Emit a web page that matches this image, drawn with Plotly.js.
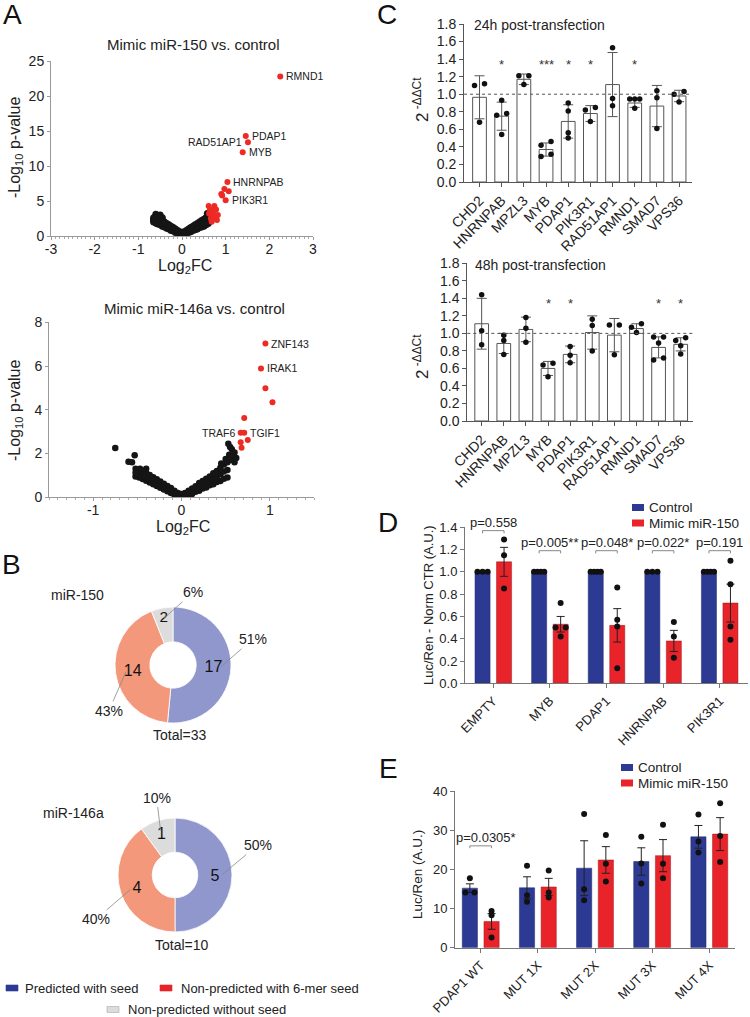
<!DOCTYPE html>
<html><head><meta charset="utf-8">
<script src="https://cdn.plot.ly/plotly-3.0.1.min.js"></script>
<style>html,body{margin:0;padding:0;background:#fff}#chart{width:750px;height:1017px}</style>
</head><body><div id="chart"></div>
<script>
// ================= DATA =================
// Panel A (top): Mimic miR-150 vs. control  (black = non-significant genes, red = significant)
const a1BlackX = [0,0,
 -0.05,-0.1,-0.15,-0.2,-0.25,-0.3,-0.35,-0.4,-0.45,-0.5,-0.55,-0.6,-0.65,
 -0.05,-0.1,-0.15,-0.2,-0.25,-0.3,-0.35,-0.4,-0.45,-0.5,-0.55,-0.6,-0.65,
 -0.05,-0.1,-0.15,-0.2,-0.25,-0.3,-0.35,-0.4,-0.45,-0.5,-0.55,-0.6,-0.65,
 -0.6,-0.5,-0.55,-0.65,-0.62,-0.45,-0.58,
 0.05,0.1,0.15,0.2,0.25,0.3,0.35,0.4,0.45,0.5,0.55,0.6,0.62,
 0.05,0.1,0.15,0.2,0.25,0.3,0.35,0.4,0.45,0.5,0.55,0.6,0.62,
 0.05,0.1,0.15,0.2,0.25,0.3,0.35,0.4,0.45,0.5,0.55,0.6,0.62,
 0.58,0.55];
const a1BlackY = [0.3,0.5,
 0.3,0.4,0.5,0.7,0.8,1.0,1.1,1.3,1.4,1.6,1.7,1.9,2.0,
 0.45,0.6,0.75,0.95,1.1,1.3,1.45,1.65,1.8,2.0,2.1,2.25,2.2,
 0.6,0.8,1.0,1.2,1.4,1.6,1.8,2.0,2.2,2.4,2.5,2.6,2.4,
 3.1,3.0,2.8,2.6,2.2,2.6,1.8,
 0.3,0.4,0.5,0.6,0.8,0.9,1.0,1.2,1.3,1.4,1.6,1.8,2.0,
 0.45,0.6,0.75,0.9,1.1,1.25,1.4,1.6,1.75,1.9,2.1,2.3,2.5,
 0.6,0.8,1.0,1.2,1.4,1.6,1.8,2.0,2.2,2.4,2.6,2.8,3.0,
 3.2,1.7];
const a1RedX = [2.25,1.46,1.51,1.39,1.04,0.97,1.07,0.90,0.92,1.00,0.61,0.74,0.64,0.78,0.62,0.70,0.82,0.66,0.76,0.68,0.72,0.80];
const a1RedY = [22.8,14.3,13.4,11.95,7.7,6.7,6.4,6.0,5.8,5.1,4.3,4.3,3.8,3.8,3.2,3.2,3.0,2.5,2.6,2.05,3.6,2.3];
const a1RedName = ['RMND1','PDAP1','RAD51AP1','MYB','HNRNPAB','','','','','PIK3R1','','','','','','','','','','','',''];
const a1XTicks = [-3,-2,-1,0,1,2,3];
const a1YTicks = [0,5,10,15,20,25];

// Panel A (bottom): Mimic miR-146a vs. control
const a2BlackX = [0,0,
 -0.04,-0.08,-0.12,-0.16,-0.2,-0.24,-0.28,-0.32,-0.36,-0.4,-0.44,-0.48,-0.52,
 -0.04,-0.08,-0.12,-0.16,-0.2,-0.24,-0.28,-0.32,-0.36,-0.4,-0.44,-0.48,-0.52,
 -0.04,-0.08,-0.12,-0.16,-0.2,-0.24,-0.28,-0.32,-0.36,-0.4,-0.44,-0.48,-0.52,
 -0.75,-0.53,-0.6,-0.56,-0.47,-0.4,-0.5,
 0.04,0.08,0.12,0.16,0.2,0.24,0.28,0.32,0.36,0.4,0.44,0.48,0.52,
 0.04,0.08,0.12,0.16,0.2,0.24,0.28,0.32,0.36,0.4,0.44,0.48,0.52,
 0.04,0.08,0.12,0.16,0.2,0.24,0.28,0.32,0.36,0.4,0.44,0.48,0.52,
 0.53,0.55,0.57,0.6,0.58,0.5,0.55,0.6,0.45,0.62,0.54];
const a2BlackY = [0.05,0.15,
 0.05,0.12,0.2,0.28,0.36,0.44,0.52,0.6,0.68,0.76,0.84,0.9,0.95,
 0.12,0.21,0.31,0.4,0.49,0.58,0.67,0.76,0.85,0.94,1.02,1.08,1.12,
 0.2,0.3,0.42,0.52,0.62,0.72,0.82,0.92,1.02,1.12,1.2,1.26,1.3,
 2.25,1.92,1.62,1.6,1.3,1.3,1.1,
 0.05,0.1,0.15,0.25,0.3,0.4,0.45,0.55,0.6,0.7,0.75,0.85,0.9,
 0.12,0.2,0.28,0.38,0.48,0.58,0.65,0.75,0.85,0.95,1.05,1.18,1.25,
 0.2,0.3,0.4,0.5,0.65,0.75,0.85,0.95,1.1,1.2,1.35,1.5,1.6,
 2.45,2.3,2.2,2.05,1.8,1.75,1.7,1.6,1.55,1.8,1.95];
const a2RedX = [0.95,0.90,0.95,1.03,0.71,0.67,0.71,0.75,0.67,0.68];
const a2RedY = [7.03,5.89,4.98,4.34,3.62,2.95,2.95,2.62,2.52,2.27];
const a2RedName = ['ZNF143','IRAK1','','','','TRAF6','TGIF1','','',''];
const a2XTicks = [-1,0,1];
const a2YTicks = [0,2,4,6,8];

// Panel B: donuts
const pieCategories = ['Predicted with seed','Non-predicted with 6-mer seed','Non-predicted without seed'];
const pie150Values = [17,14,2];
const pie150Pct = ['51%','43%','6%'];
const pie146Values = [5,4,1];
const pie146Pct = ['50%','40%','10%'];

// Panel C: qPCR
const cGenes = ['CHD2','HNRNPAB','MPZL3','MYB','PDAP1','PIK3R1','RAD51AP1','RMND1','SMAD7','VPS36'];
const c24Mean = [0.965,0.75,1.17,0.37,0.69,0.78,1.11,0.90,0.865,0.98];
const c24Sd   = [0.245,0.16,0.06,0.075,0.19,0.09,0.365,0.05,0.235,0.065];
const c24Dots = [[1.12,1.10,0.68],[0.78,0.93,0.76,0.54],[1.21,1.21,1.11],[0.42,0.46,0.29,0.315],[0.90,0.81,0.56,0.50],[0.85,0.82,0.69],[1.53,0.95,0.87],[0.945,0.945,0.945,0.84],[1.04,0.96,0.61],[1.03,1.00,0.91]];
const c24Stars = ['','*','','***','*','*','','*','',''];
const c48Mean = [1.11,0.885,1.045,0.60,0.76,1.01,0.98,1.055,0.84,0.875];
const c48Sd   = [0.29,0.115,0.14,0.08,0.095,0.19,0.19,0.055,0.12,0.075];
const c48Dots = [[1.44,1.03,0.87],[0.98,0.92,0.76],[1.18,1.06,0.90],[0.66,0.64,0.505],[0.85,0.75,0.665],[1.16,1.09,0.80],[1.095,1.095,0.755],[1.11,1.07,1.01],[0.96,0.96,0.89,0.695,0.72],[0.92,0.95,0.86,0.765]];
const c48Stars = ['','','','*','*','','','','*','*'];
const cYTicks = [0,0.2,0.4,0.6,0.8,1.0,1.2,1.4,1.6,1.8];

// Panel D: luciferase, normalised
const dGenes = ['EMPTY','MYB','PDAP1','HNRNPAB','PIK3R1'];
const dCtrlMean = [1,1,1,1,1];
const dCtrlDots = [[1,1,1],[1,1,1,1],[1,1,1,1],[1,1,1],[1,1,1,1]];
const dMimMean = [1.09,0.53,0.52,0.38,0.72];
const dMimSem  = [0.13,0.07,0.15,0.095,0.17];
const dMimDots = [[1.29,1.15,0.85],[0.72,0.50,0.50,0.42],[0.86,0.57,0.51,0.135],[0.55,0.42,0.23],[1.10,0.89,0.51,0.39]];
const dPvals = ['p=0.558','p=0.005**','p=0.048*','p=0.022*','p=0.191'];
const dYTicks = [0,0.2,0.4,0.6,0.8,1.0,1.2,1.4];

// Panel E: luciferase, PDAP1 mutants
const eConstructs = ['PDAP1 WT','MUT 1X','MUT 2X','MUT 3X','MUT 4X'];
const eCtrlMean = [15.2,15.3,20.3,22.0,28.3];
const eCtrlSem  = [1.1,2.8,7.0,3.5,2.9];
const eCtrlDots = [[17.7,14.1,14.1],[20.9,13.4,11.7],[34.1,14.9,12.1],[28.3,21.5,16.4],[34.0,27.1,24.3]];
const eMimMean = [6.7,15.5,22.4,23.5,29.0];
const eMimSem  = [2.0,2.2,3.4,4.1,4.2];
const eMimDots = [[9.4,8.3,2.6],[19.7,14.1,12.8],[28.8,21.4,16.9],[31.4,21.4,17.7],[36.9,28.5,21.9]];
const ePvals = ['p=0.0305*','','','',''];
const eYTicks = [0,10,20,30,40];

const seriesNames = ['Control','Mimic miR-150'];

// ================= STYLE / HELPERS =================
const FONT = 'Liberation Sans, Arial, sans-serif';
const W = 750, H = 1017;
const px = v => v / W;
const py = v => 1 - v / H;
const BLUE = '#2c3a93', RED = '#e9232a';
const PIE_COLORS = ['#9097cc','#f4987b','#dcdcdc'];
const LEG_COLORS = [BLUE, RED, '#dcdcdc'];
const GROUP_OFF = 0.19;

function swarm(vals, thr, span){
  const idx = vals.map((v,i)=>i).sort((a,b)=>vals[a]-vals[b]);
  const off = new Array(vals.length).fill(0);
  let group = [idx[0]];
  const flush = () => { const n = group.length; group.forEach((k,j)=>{ off[k] = n>1 ? -span/2 + span*j/(n-1) : 0; }); };
  for (let k=1;k<idx.length;k++){
    if (vals[idx[k]] - vals[idx[k-1]] < thr) group.push(idx[k]); else { flush(); group=[idx[k]]; }
  }
  flush();
  return off;
}
function axisBase(o){
  return Object.assign({showline:true, linecolor:'#777', linewidth:1, ticks:'outside', ticklen:4, tickcolor:'#777',
    showgrid:false, zeroline:false, fixedrange:true, tickfont:{size:13,color:'#222',family:FONT}}, o);
}

const traces = [];
const ann = [];
const shp = [];
function text(t, x, y, o){ ann.push(Object.assign({text:t, x:px(x), y:py(y), xref:'paper', yref:'paper', xanchor:'center', yanchor:'middle', showarrow:false, font:{size:14,color:'#222',family:FONT}}, o||{})); }

// ---- Panel A ----
function volcano(bx, by, rx, ry, names, xa, ya, leftNames, msize){
  traces.push({type:'scatter', mode:'markers', x:bx, y:by, xaxis:xa, yaxis:ya, marker:{color:'#151515', size:msize}, hoverinfo:'skip'});
  traces.push({type:'scatter', mode:'markers', x:rx, y:ry, xaxis:xa, yaxis:ya, marker:{color:'#ee2a24', size:6}, hoverinfo:'skip'});
  names.forEach((n,i)=>{
    if(!n) return;
    const left = leftNames.includes(n);
    ann.push({text:n, x:rx[i], y:ry[i], xref:xa, yref:ya, showarrow:false, xanchor:left?'right':'left', yanchor:'middle', xshift:left?-4:4,
      font:{size:10.5,color:'#222',family:FONT}});
  });
}
volcano(a1BlackX,a1BlackY,a1RedX,a1RedY,a1RedName,'x','y',['RAD51AP1'],7);
volcano(a2BlackX,a2BlackY,a2RedX,a2RedY,a2RedName,'x2','y2',['TRAF6'],6.5);
text('Mimic miR-150 vs. control',193,45,{font:{size:15,color:'#222',family:FONT}});
text('Mimic miR-146a vs. control',194,308,{font:{size:15,color:'#222',family:FONT}});
text('-Log<sub>10</sub> p-value',15,147,{textangle:-90,font:{size:16,color:'#222',family:FONT}});
text('-Log<sub>10</sub> p-value',15,410,{textangle:-90,font:{size:16,color:'#222',family:FONT}});
text('Log<sub>2</sub>FC',185,266,{font:{size:16,color:'#222',family:FONT}});
text('Log<sub>2</sub>FC',183,527,{font:{size:16,color:'#222',family:FONT}});

// ---- Panel B ----
function donut(vals, pct, cx, cy, r, offsets, title, titlePos){
  traces.push({type:'pie', values:vals, labels:pieCategories, sort:false, direction:'clockwise', rotation:0, hole:0.4,
    marker:{colors:PIE_COLORS, line:{color:'#fff', width:0.8}}, textinfo:'value', textposition:'inside',
    insidetextorientation:'horizontal', textfont:{size:16,color:'#111',family:FONT},
    domain:{x:[px(cx-r),px(cx+r)], y:[py(cy+r),py(cy-r)]}, hoverinfo:'skip'});
  const tot = vals.reduce((a,b)=>a+b,0); let cum = 0;
  vals.forEach((v,i)=>{
    const mid = (cum + v/2)/tot*2*Math.PI; cum += v;
    const rt = r*0.82;
    ann.push({text:pct[i], x:px(cx+rt*Math.sin(mid)), y:py(cy-rt*Math.cos(mid)), xref:'paper', yref:'paper',
      showarrow:true, arrowhead:0, arrowwidth:0.8, arrowcolor:'#888', ax:offsets[i][0], ay:offsets[i][1],
      xanchor:'center', yanchor:'middle', font:{size:14,color:'#222',family:FONT}});
  });
  text(title, titlePos[0], titlePos[1]);
  text('Total='+tot, cx+7, cy+70);
}
donut(pie150Values, pie150Pct, 173, 665, 58, [[32,-28],[-17,39],[29,-26]], 'miR-150', [77,595]);
donut(pie146Values, pie146Pct, 175, 875, 57, [[36,-30],[-35,30],[-4,-33]], 'miR-146a', [73,813]);
// legend B
[[6,988,22.7],[160,988,179.3],[107,1009.5,126]].forEach((p,i)=>{
  shp.push({type:'rect', xref:'paper', yref:'paper', x0:px(p[0]), x1:px(p[0]+12), y0:py(p[1]+3), y1:py(p[1]-3),
    fillcolor:LEG_COLORS[i], line:{color:i===2?'#aaa':LEG_COLORS[i], width:0.6}});
  text(pieCategories[i], p[2], p[1], {xanchor:'left', font:{size:13,color:'#222',family:FONT}});
});

// ---- Panel C ----
function cPanel(mean, sd, dots, stars, xa, ya){
  const xs = cGenes.map((g,i)=>i);
  traces.push({type:'bar', x:xs, y:mean, width:0.62, xaxis:xa, yaxis:ya, marker:{color:'#fff', line:{color:'#555', width:1}},
    error_y:{type:'data', array:sd, visible:true, color:'#555', thickness:1, width:5}, hoverinfo:'skip'});
  const dx=[], dy=[];
  dots.forEach((arr,i)=>{ const off = swarm(arr,0.05,0.45); arr.forEach((v,k)=>{ dx.push(i+off[k]); dy.push(v); }); });
  traces.push({type:'scatter', mode:'markers', x:dx, y:dy, xaxis:xa, yaxis:ya, marker:{color:'#111', size:5.5}, hoverinfo:'skip'});
  stars.forEach((s,i)=>{ if(s) ann.push({text:s, x:i, y:1.34, xref:xa, yref:ya, showarrow:false, xanchor:'center', yanchor:'middle', font:{size:13,color:'#333',family:FONT}}); });
  shp.push({type:'line', xref:xa+' domain', yref:ya, x0:0, x1:1, y0:1, y1:1, line:{color:'#555', width:1, dash:'dot'}});
}
cPanel(c24Mean,c24Sd,c24Dots,c24Stars,'x3','y3');
cPanel(c48Mean,c48Sd,c48Dots,c48Stars,'x4','y4');
text('24h post-transfection',472,25,{xanchor:'left'});
text('48h post-transfection',473,265,{xanchor:'left'});
text('2<sup> -ΔΔCt</sup>',421,100,{textangle:-90,font:{size:17,color:'#222',family:FONT}});
text('2<sup> -ΔΔCt</sup>',421,357,{textangle:-90,font:{size:17,color:'#222',family:FONT}});

// ---- Panels D & E ----
function dePanel(cats, cMean, cErr, cDots, mMean, mErr, mDots, xa, ya, thr, span, dsize){
  const xs = cats.map((c,i)=>i);
  const ctrl = {type:'bar', name:seriesNames[0], x:xs, y:cMean, xaxis:xa, yaxis:ya, marker:{color:BLUE, line:{color:'#1d2668', width:0.5}}, hoverinfo:'skip'};
  if (cErr) ctrl.error_y = {type:'data', array:cErr, visible:true, color:'#222', thickness:1, width:4};
  traces.push(ctrl);
  traces.push({type:'bar', name:seriesNames[1], x:xs, y:mMean, xaxis:xa, yaxis:ya, marker:{color:RED, line:{color:'#9a1a1e', width:0.5}},
    error_y:{type:'data', array:mErr, visible:true, color:'#222', thickness:1, width:4}, hoverinfo:'skip'});
  const dx=[], dy=[];
  [[cDots,-GROUP_OFF],[mDots,GROUP_OFF]].forEach(([set,o])=>{
    set.forEach((arr,i)=>{ const off = swarm(arr,thr,span); arr.forEach((v,k)=>{ dx.push(i+o+off[k]); dy.push(v); }); });
  });
  traces.push({type:'scatter', mode:'markers', x:dx, y:dy, xaxis:xa, yaxis:ya, marker:{color:'#111', size:dsize}, hoverinfo:'skip', cliponaxis:false});
}
dePanel(dGenes,dCtrlMean,null,dCtrlDots,dMimMean,dMimSem,dMimDots,'x5','y5',0.05,0.18,6);
dePanel(eConstructs,eCtrlMean,eCtrlSem,eCtrlDots,eMimMean,eMimSem,eMimDots,'x6','y6',1.0,0.16,6);

// p-value brackets (labels in paper coords so they stay visible above the axis range)
const D_DOM = [py(683.3), py(527.3)], D_RANGE = [0,1.4];
const E_DOM = [py(947.7), py(791)], E_RANGE = [0,40];
const toPaper = (v, dom, rng) => dom[0] + (v - rng[0]) / (rng[1] - rng[0]) * (dom[1] - dom[0]);
dPvals.forEach((p,i)=>{
  const tops = dCtrlDots[i].concat(dMimDots[i], [dMimMean[i]+dMimSem[i]]);
  const yb = Math.max(1.19, Math.max(...tops)+0.08);
  shp.push({type:'path', xref:'x5', yref:'y5', path:`M ${i-GROUP_OFF},${yb-0.024} L ${i-GROUP_OFF},${yb} L ${i+GROUP_OFF},${yb} L ${i+GROUP_OFF},${yb-0.024}`, line:{color:'#888', width:1}});
  ann.push({text:p, x:i, y:toPaper(yb+0.07, D_DOM, D_RANGE), xref:'x5', yref:'paper', showarrow:false, xanchor:'center', yanchor:'middle', font:{size:13,color:'#222',family:FONT}});
});
ePvals.forEach((p,i)=>{
  if(!p) return;
  const tops = eCtrlDots[i].concat(eMimDots[i]);
  const yb = Math.max(...tops)+8.3;
  shp.push({type:'path', xref:'x6', yref:'y6', path:`M ${i-GROUP_OFF},${yb-0.6} L ${i-GROUP_OFF},${yb} L ${i+GROUP_OFF},${yb} L ${i+GROUP_OFF},${yb-0.6}`, line:{color:'#888', width:1}});
  ann.push({text:p, x:i+0.1, y:toPaper(yb+2.2, E_DOM, E_RANGE), xref:'x6', yref:'paper', showarrow:false, xanchor:'center', yanchor:'middle', font:{size:13,color:'#222',family:FONT}});
});
text('Luc/Ren - Norm CTR (A.U.)',428,605,{textangle:-90,font:{size:13,color:'#222',family:FONT}});
text('Luc/Ren (A.U.)',417,875,{textangle:-90,font:{size:13.5,color:'#222',family:FONT}});
// legends D, E
[[632,507.5],[621,767.5]].forEach(([lx,ly])=>{
  seriesNames.forEach((n,i)=>{
    const yy = ly + i*15.5;
    shp.push({type:'rect', xref:'paper', yref:'paper', x0:px(lx), x1:px(lx+12), y0:py(yy+3.5), y1:py(yy-3.5), fillcolor:[BLUE,RED][i], line:{width:0}});
    text(n, lx+14.5, yy, {xanchor:'left', font:{size:13.5,color:'#222',family:FONT}});
  });
});

// Panel letters
[['A',12,14],['B',11,564],['C',387,14],['D',388,522],['E',388,768]].forEach(([l,x,y])=>text(l,x,y,{font:{size:28,color:'#111',family:FONT}}));

// ================= LAYOUT =================
const volX = {linecolor:'#999', tickcolor:'#999', ticklen:3, ticklabelstandoff:-3, tickfont:{size:14,color:'#222',family:FONT},
  minor:{ticks:'outside', ticklen:2, tickmode:'linear', tick0:0, dtick:0.1, tickcolor:'#aaa', showgrid:false}};
const volY = {linecolor:'#999', tickcolor:'#999', ticklen:3, tickfont:{size:14,color:'#222',family:FONT}};
const layout = {
  width:W, height:H, margin:{l:0,r:0,t:0,b:0}, paper_bgcolor:'#fff', plot_bgcolor:'#fff',
  font:{family:FONT, size:13, color:'#222'}, showlegend:false,
  barmode:'group', bargap:0.24, bargroupgap:0.3,
  xaxis: axisBase(Object.assign({domain:[px(51),px(313)], range:[-3,3], anchor:'y', tickmode:'array', tickvals:a1XTicks, ticktext:a1XTicks.map(String)}, volX)),
  yaxis: axisBase(Object.assign({domain:[py(236),py(61)], range:[0,25], anchor:'x', tickmode:'array', tickvals:a1YTicks, ticktext:a1YTicks.map(String)}, volY)),
  xaxis2: axisBase(Object.assign({domain:[px(49),px(314)], range:[-1.5,1.5], anchor:'y2', tickmode:'array', tickvals:a2XTicks, ticktext:a2XTicks.map(String)}, volX)),
  yaxis2: axisBase(Object.assign({domain:[py(497.3),py(322.3)], range:[0,8], anchor:'x2', tickmode:'array', tickvals:a2YTicks, ticktext:a2YTicks.map(String)}, volY)),
  xaxis3: axisBase({domain:[px(464),px(691.7)], range:[-0.7,9.57], anchor:'y3', tickmode:'array', tickvals:cGenes.map((g,i)=>i), ticktext:cGenes,
    tickangle:-45, linecolor:'#555', tickcolor:'#555', tickfont:{size:14,color:'#222',family:FONT}}),
  yaxis3: axisBase({domain:[py(182),py(24)], range:[0,1.8], anchor:'x3', tickmode:'array', tickvals:cYTicks, ticktext:cYTicks.map(v=>v.toFixed(1)),
    linecolor:'#555', tickcolor:'#555', tickfont:{size:14,color:'#222',family:FONT}}),
  xaxis4: axisBase({domain:[px(467.3),px(693.3)], range:[-0.65,9.57], anchor:'y4', tickmode:'array', tickvals:cGenes.map((g,i)=>i), ticktext:cGenes,
    tickangle:-45, linecolor:'#555', tickcolor:'#555', tickfont:{size:14,color:'#222',family:FONT}}),
  yaxis4: axisBase({domain:[py(421),py(263.3)], range:[0,1.8], anchor:'x4', tickmode:'array', tickvals:cYTicks, ticktext:cYTicks.map(v=>v.toFixed(1)),
    linecolor:'#555', tickcolor:'#555', tickfont:{size:14,color:'#222',family:FONT}}),
  xaxis5: axisBase({domain:[px(465),px(748)], range:[-0.5,4.5], anchor:'y5', tickmode:'array', tickvals:dGenes.map((g,i)=>i), ticktext:dGenes, tickangle:-45}),
  yaxis5: axisBase({domain:D_DOM, range:D_RANGE, anchor:'x5', tickmode:'array', tickvals:dYTicks, ticktext:dYTicks.map(v=>v.toFixed(1))}),
  xaxis6: axisBase({domain:[px(455),px(735)], range:[-0.45,4.45], anchor:'y6', tickmode:'array', tickvals:eConstructs.map((g,i)=>i), ticktext:eConstructs, tickangle:-45}),
  yaxis6: axisBase({domain:E_DOM, range:E_RANGE, anchor:'x6', tickmode:'array', tickvals:eYTicks, ticktext:eYTicks.map(String)}),
  annotations: ann, shapes: shp
};
Plotly.newPlot('chart', traces, layout, {staticPlot:true, displayModeBar:false});
</script></body></html>
